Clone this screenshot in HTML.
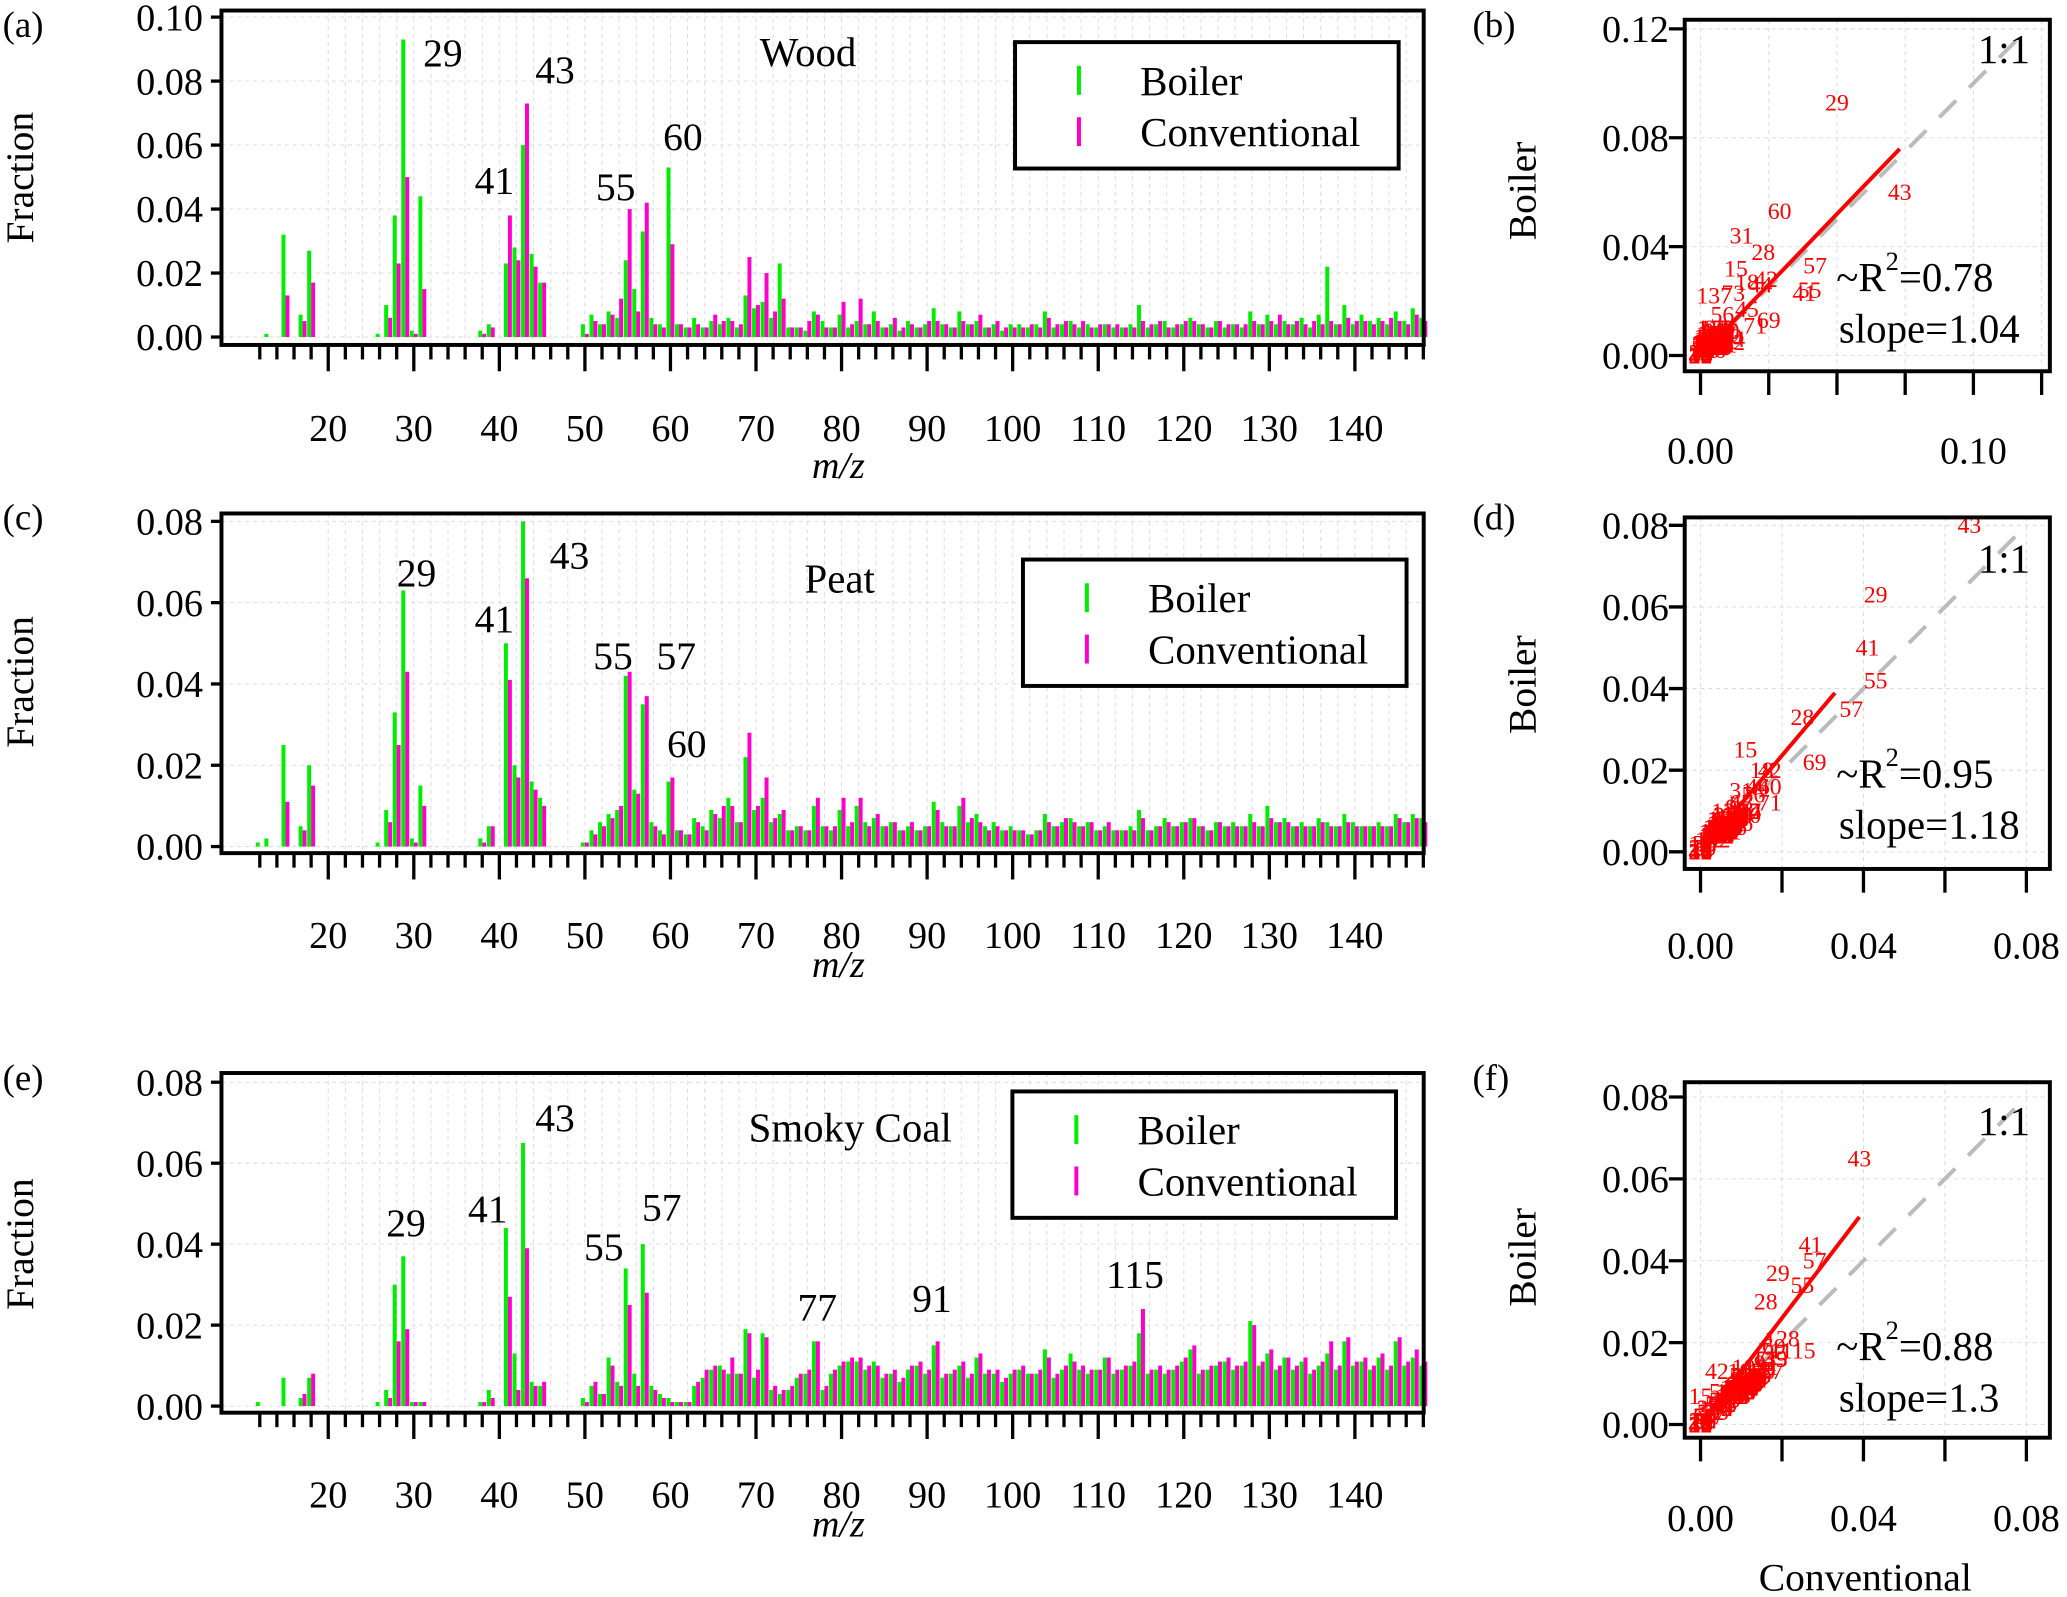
<!DOCTYPE html>
<html><head><meta charset="utf-8">
<style>
html,body{margin:0;padding:0;background:#fff;}
svg{display:block;font-family:"Liberation Serif",serif;}
</style></head>
<body>
<svg id="fig" xmlns="http://www.w3.org/2000/svg" width="2067" height="1597" viewBox="0 0 1568 1213" preserveAspectRatio="none"></svg>
<script>
// values in units of 1e-3 (fraction x 1000), m/z 12..148
const mz = []; for (let m = 12; m <= 148; m++) mz.push(m);
const woodBoiler = [0,1,0,32,0,7,27,0,0,0, 0,0,0,0,1,10,38,93,2,44, 0,0,0,0,0,0,2,4,0,23, 28,60,26,17,0,0,0,0,4,7, 4,8,6,24,15,33,6,4,53,4, 3,6,3,5,4,6,3,13,9,11, 6,23,3,3,2,8,5,3,7,3, 5,4,8,3,4,2,5,3,4,9, 4,3,8,4,5,3,4,2,4,4, 3,4,8,3,4,5,3,4,3,4, 3,3,4,10,3,4,5,3,4,6, 4,3,5,3,4,3,8,4,7,4, 5,4,6,3,7,22,4,10,4,7, 5,6,4,8,5,9,6];
const woodConv = [0,0,0,13,0,5,17,0,0,0, 0,0,0,0,0,6,23,50,1,15, 0,0,0,0,0,0,1,3,0,38, 24,73,22,17,0,0,0,0,1,5, 4,7,12,40,8,42,4,3,29,4, 3,4,3,7,5,5,4,25,10,20, 8,12,3,3,5,7,3,3,11,4, 12,4,5,3,6,3,4,3,5,5, 4,3,5,4,7,3,5,3,3,3, 4,3,6,4,5,4,5,3,4,4, 4,3,3,5,4,5,3,4,5,5, 4,3,5,4,4,4,5,4,5,7, 4,5,4,5,4,5,4,6,5,5, 4,5,6,5,4,7,5];
const peatBoiler = [1,2,0,25,0,5,20,0,0,0, 0,0,0,0,1,9,33,63,2,15, 0,0,0,0,0,0,2,5,0,50, 20,80,16,12,0,0,0,0,1,4, 6,8,9,42,14,35,6,4,16,4, 3,7,5,9,7,12,6,22,9,12, 6,8,4,5,4,10,5,4,9,5, 10,6,7,5,6,4,5,4,5,11, 6,5,10,6,8,5,6,4,5,4, 3,4,8,5,6,7,5,6,4,5, 4,4,5,9,4,5,7,5,6,7, 5,4,6,5,6,5,8,5,10,6, 7,5,6,5,7,6,5,8,6,5, 5,6,5,8,6,8,7];
const peatConv = [0,0,0,11,0,4,15,0,0,0, 0,0,0,0,0,6,25,43,1,10, 0,0,0,0,0,0,1,5,0,41, 17,66,14,10,0,0,0,0,1,3, 5,7,10,43,13,37,5,3,17,4, 3,6,4,8,10,10,6,28,10,17, 7,9,4,5,4,12,5,5,12,6, 12,5,8,5,6,4,6,4,5,9, 5,5,12,7,6,4,5,4,4,4, 3,4,6,5,7,6,5,6,4,6, 4,4,4,7,4,5,6,5,6,7, 5,4,6,5,5,5,6,5,7,6, 6,5,5,5,6,5,5,6,5,5, 5,5,5,7,6,7,6];
const coalBoiler = [1,0,0,7,0,2,7,0,0,0, 0,0,0,0,1,4,30,37,1,1, 0,0,0,0,0,0,1,4,0,44, 13,65,6,5,0,0,0,0,2,5, 3,12,6,34,8,40,5,3,2,1, 1,5,7,9,10,8,8,19,7,18, 4,3,4,7,8,16,4,8,10,11, 11,9,11,7,8,6,9,10,8,15, 7,8,10,7,12,8,8,6,8,9, 8,8,14,7,9,13,9,8,9,12, 8,9,10,18,8,9,8,9,11,14, 8,9,10,11,9,10,21,10,13,9, 12,9,11,8,10,13,9,16,10,11, 9,12,9,16,10,12,10];
const coalConv = [0,0,0,0,0,3,8,0,0,0, 0,0,0,0,0,2,16,19,1,1, 0,0,0,0,0,0,1,2,0,27, 4,39,5,6,0,0,0,0,1,6, 3,10,5,25,5,28,4,2,1,1, 1,6,9,10,9,12,8,18,9,17, 5,4,5,8,9,16,5,9,11,12, 12,10,10,8,9,7,10,11,9,16, 8,9,11,8,13,9,9,7,9,10, 8,9,12,8,10,11,10,9,9,12, 9,10,11,24,9,10,9,10,12,15, 9,10,11,12,10,11,20,11,14,10, 12,10,12,9,11,16,10,17,11,12, 10,13,10,17,11,14,11];
const titles = ["Wood","Peat","Smoky Coal"];
const peakLabels = [[29,43,41,55,60],[29,41,43,55,57,60],[29,41,43,55,57,77,91,115]];
const r2Text = ["0.78","0.95","0.88"];
const slopes = [1.04,1.18,1.3];
const fitEnd = [73,33,39];
const yMaxBar = [100,80,80];
const scatterMax = [[120,120],[80,80],[80,80]];
// label placements (layout, not data)
const labelPos = [
  [[336,40],[421,53],[375,137],[467,142],[518,104]],
  [[316,435],[375,470],[432,422],[465,498],[513,498],[521,565]],
  [[308,929],[370,918],[421,849],[458,947],[502,917],[620,993],[707,986],[861,968]]
];

const svg = document.getElementById('fig');
const NS = 'http://www.w3.org/2000/svg';
function el(tag, attrs, parent, txt){
  const e = document.createElementNS(NS, tag);
  for (const k in attrs) e.setAttribute(k, attrs[k]);
  if (txt !== undefined) e.textContent = txt;
  (parent || svg).appendChild(e);
  return e;
}
const panels = [
  {top:8, y0:256, yTopPx:13, axis:262, xlab:325, mzY:353, leg:[770,32], title:[613,40], letter:"(a)", letY:18, labY:135},
  {top:390, y0:643, yTopPx:396, axis:648, xlab:710, mzY:732, leg:[776,425], title:[637,440], letter:"(c)", letY:392, labY:518},
  {top:815, y0:1068, yTopPx:822, axis:1073, xlab:1135, mzY:1157, leg:[768,829], title:[645,857], letter:"(e)", letY:818, labY:945}
];
const scat = [
  {top:15, bot:282, y0:270, ypx:2.067, xpx:2.07, xt:[0,100], xlab:342, yt:[0,40,80,120], letter:"(b)", letY:18, labY:145},
  {top:393, bot:660, y0:647, ypx:3.1, xpx:3.09, xt:[0,40,80], xlab:718, yt:[0,20,40,60,80], letter:"(d)", letY:392, labY:520},
  {top:822, bot:1092, y0:1082, ypx:3.11, xpx:3.09, xt:[0,40,80], xlab:1153, yt:[0,20,40,60,80], letter:"(f)", letY:818, labY:955}
];
const data = [[woodBoiler,woodConv],[peatBoiler,peatConv],[coalBoiler,coalConv]];
const X = m => 249 + (m-20)*6.49;

panels.forEach((p,pi)=>{
  const g = el('g',{});
  
  
  const Y = v => p.y0 - v/yMaxBar[pi]*(p.y0-p.yTopPx);
  for (let m=20;m<=148;m+=2) el('line',{x1:X(m),x2:X(m),y1:p.top,y2:p.axis,stroke:'#ddd','stroke-width':0.8,'stroke-dasharray':'3,3'},g);
  for (let v=0; v<=yMaxBar[pi]; v+=20){
    el('line',{x1:168,x2:1080,y1:Y(v),y2:Y(v),stroke:'#ddd','stroke-width':0.8,'stroke-dasharray':'3,3'},g);
    el('line',{x1:160,x2:168,y1:Y(v),y2:Y(v),stroke:'#000','stroke-width':2.5},g);
    const t = el('text',{x:154,y:Y(v)+10,'font-size':29,'text-anchor':'end'},g,(v/1000).toFixed(2));
    
    
  }
  const [b,c] = data[pi];
  mz.forEach((m,i)=>{
    if (b[i]>0){ const r=el('rect',{x:X(m)-3,y:Y(b[i]),width:3,height:p.y0-Y(b[i]),fill:'#00ee00'},g);
        }
    if (c[i]>0){ const r=el('rect',{x:X(m),y:Y(c[i]),width:3,height:p.y0-Y(c[i]),fill:'#ff00cc'},g);
        }
  });
  el('rect',{x:168,y:p.top,width:912,height:p.axis-p.top,fill:'none',stroke:'#000','stroke-width':3},g);
  for (let m=12;m<=148;m+=2){
    const major = m%10===0;
    el('line',{x1:X(m),x2:X(m),y1:p.axis,y2:p.axis+(major?20:11),stroke:'#000','stroke-width':2.5},g);
    if (major && m>=20 && m<=140){
      const t=el('text',{x:X(m),y:p.xlab+10,'font-size':29,'text-anchor':'middle'},g,String(m));
       
    }
  }
  const mzl = el('text',{x:636,y:p.mzY+10,'font-size':29,'font-style':'italic','text-anchor':'middle'},g,'m/z');
   
  const yl = el('text',{x:0,y:0,'font-size':30,'text-anchor':'middle',transform:`translate(25,${p.labY}) rotate(-90)`},g,'Fraction');
   
  const lt = el('text',{x:2,y:p.letY+10,'font-size':28},g,p.letter);
   
  const tt = el('text',{x:p.title[0],y:p.title[1]+10,'font-size':31,'text-anchor':'middle'},g,titles[pi]);
   
  peakLabels[pi].forEach((m,k)=>{
    const [lx,ly] = labelPos[pi][k];
    const t = el('text',{x:lx,y:ly+10,'font-size':30,'text-anchor':'middle'},g,String(m));
     
  });
  const [lx,ly] = p.leg;
  const lg = el('g',{},g);
   
  el('rect',{x:lx,y:ly,width:291,height:96,fill:'#fff',stroke:'#000','stroke-width':3},lg);
  el('rect',{x:lx+47,y:ly+18,width:3,height:22,fill:'#00ee00'},lg);
  el('rect',{x:lx+47,y:ly+57,width:3,height:22,fill:'#ff00cc'},lg);
  el('text',{x:lx+95,y:ly+40,'font-size':31},lg,'Boiler');
  el('text',{x:lx+95,y:ly+79,'font-size':31},lg,'Conventional');
});

scat.forEach((s,si)=>{
  const g = el('g',{});
  
  
  const SX = v => 1290 + v*s.xpx, SY = v => s.y0 - v*s.ypx;
  const L=1278, R=1555;
  const xt = si===0 ? [0,25,50,75,100,125] : [0,20,40,60,80];
  xt.forEach(v=>{ if (SX(v)<=R) el('line',{x1:SX(v),x2:SX(v),y1:s.top,y2:s.bot,stroke:'#ddd','stroke-width':0.8,'stroke-dasharray':'3,3'},g);});
  s.yt.forEach(v=>el('line',{x1:L,x2:R,y1:SY(v),y2:SY(v),stroke:'#ddd','stroke-width':0.8,'stroke-dasharray':'3,3'},g));
  const mx = scatterMax[si][0];
  el('line',{x1:SX(0),y1:SY(0),x2:SX(mx),y2:SY(mx),stroke:'#bbb','stroke-width':3,'stroke-dasharray':'18,14'},g);
  const [b,c] = data[si];
  mz.forEach((m,i)=>{
    const t=el('text',{x:SX(c[i]),y:SY(b[i])+6,'font-size':18,fill:'#ff0000','text-anchor':'middle'},g,String(m));
     
  });
  const ce = fitEnd[si];
  el('line',{x1:SX(0),y1:SY(0),x2:SX(ce),y2:SY(ce*slopes[si]),stroke:'#ff0000','stroke-width':3},g);
  el('rect',{x:L,y:s.top,width:R-L,height:s.bot-s.top,fill:'none',stroke:'#000','stroke-width':3},g);
  s.yt.forEach(v=>{
    el('line',{x1:L-12,x2:L,y1:SY(v),y2:SY(v),stroke:'#000','stroke-width':2.5},g);
    const t=el('text',{x:L-12,y:SY(v)+10,'font-size':29,'text-anchor':'end'},g,(v/1000).toFixed(2));
     
  });
  xt.forEach(v=>{ if (SX(v)<=R+2) el('line',{x1:SX(v),x2:SX(v),y1:s.bot,y2:s.bot+18,stroke:'#000','stroke-width':2.5},g);});
  s.xt.forEach(v=>{
    const t=el('text',{x:SX(v),y:s.xlab+10,'font-size':29,'text-anchor':'middle'},g,(v/1000).toFixed(2));
     
  });
  const yl = el('text',{x:0,y:0,'font-size':30,'text-anchor':'middle',transform:`translate(1165,${s.labY}) rotate(-90)`},g,'Boiler');
   
  const lt = el('text',{x:1117,y:s.letY+10,'font-size':28},g,s.letter);
   
  el('text',{x:1540,y:SY(0)-212+(si===0?-10:0)+(si===2?-8:0),'font-size':31,'text-anchor':'end'},g,'1:1');
  const rt = el('text',{x:1393,y:SY(0)-49,'font-size':31},g);
   
  el('tspan',{},rt,'~R');
  el('tspan',{dy:-16,'font-size':20},rt,'2');
  el('tspan',{dy:16},rt,'='+r2Text[si]);
  const st = el('text',{x:1395,y:SY(0)-10,'font-size':31},g,'slope='+slopes[si]);
   
});
const cx = el('text',{x:1415,y:1208,'font-size':30,'text-anchor':'middle'},svg,'Conventional');


</script>
</body></html>
